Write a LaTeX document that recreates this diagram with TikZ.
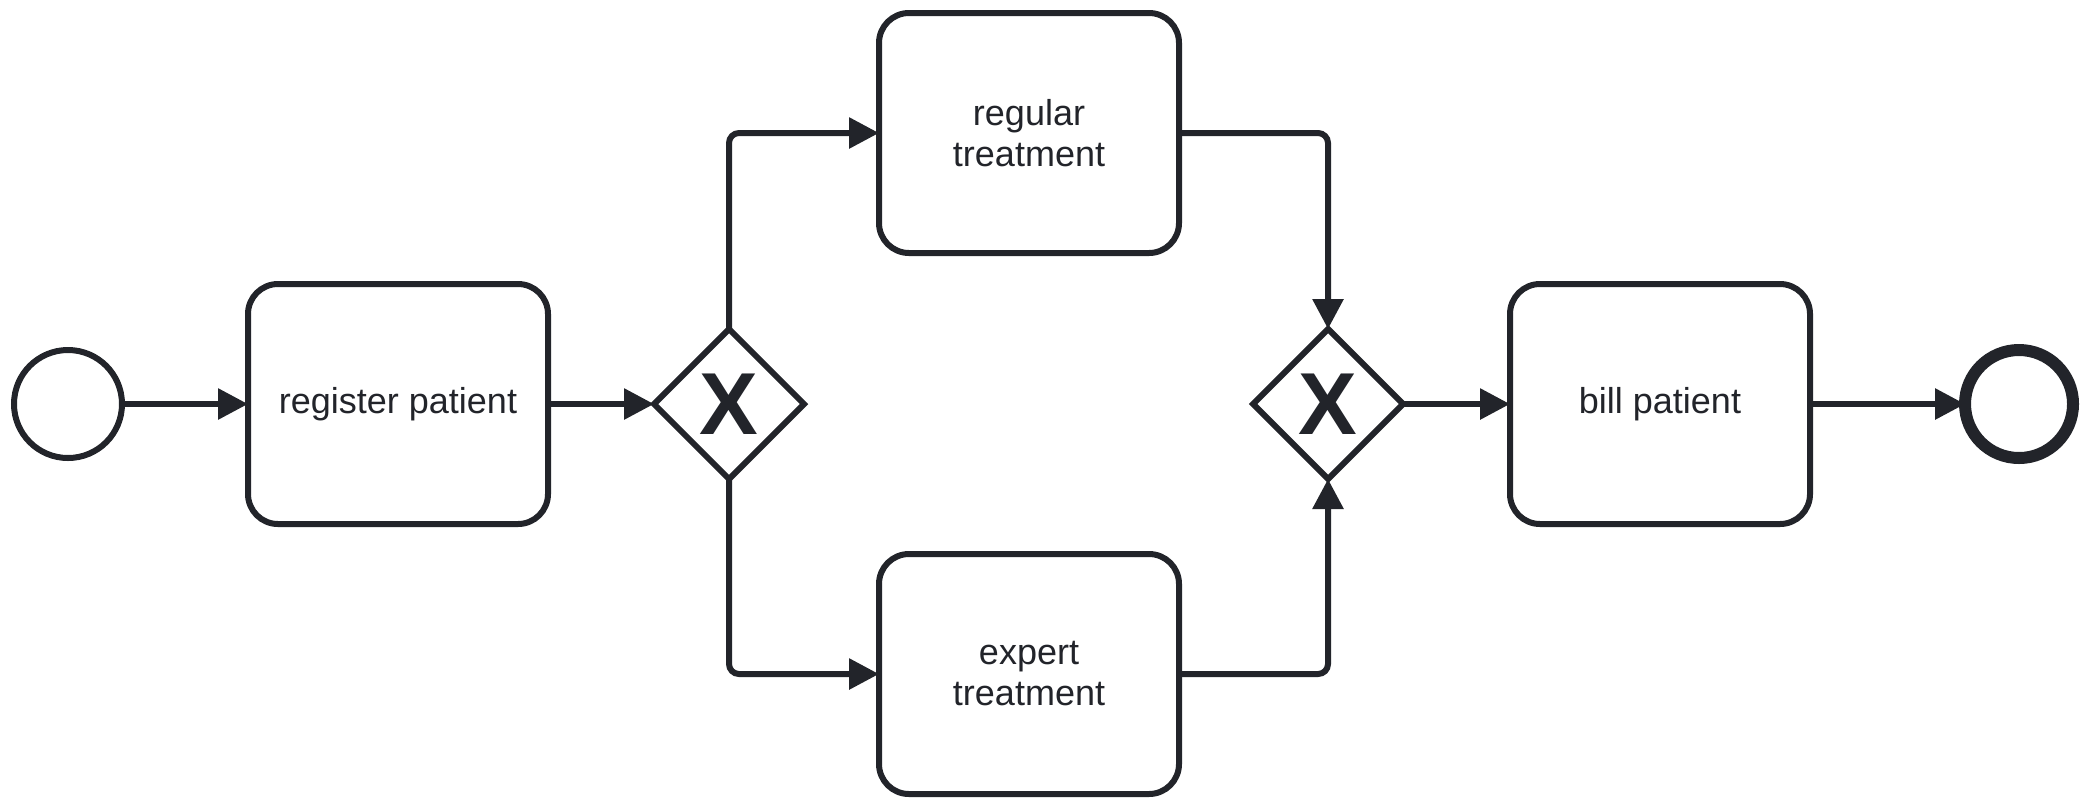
\documentclass[tikz,border=0pt]{standalone}
\usepackage{fontspec}
\setmainfont{Liberation Sans}
\usetikzlibrary{arrows.meta,positioning,shapes.geometric}
\definecolor{ink}{HTML}{22242A}
\tikzset{
  task/.style={draw=ink, line width=3pt, rounded corners=15pt, fill=white,
    minimum width=150pt, minimum height=120pt, inner sep=0pt, outer sep=0pt,
    align=center, text=ink, font=\fontsize{18}{20.5}\selectfont},
  gateway/.style={draw=ink, line width=3pt, diamond, fill=white, inner sep=0pt,
    outer sep=0pt, minimum width=75pt, minimum height=75pt, text=ink,
    font=\fontsize{44}{44}\selectfont\bfseries},
  startevent/.style={draw=ink, line width=3pt, circle, minimum size=54pt,
    inner sep=0pt, outer sep=0pt},
  endevent/.style={draw=ink, line width=6pt, circle, minimum size=54pt,
    inner sep=0pt, outer sep=0pt},
  flow/.style={draw=ink, line width=3pt, rounded corners=5pt,
    -{Triangle[length=15pt,width=15pt]}},
}
\begin{document}
\begin{tikzpicture}[x=0.5pt, y=-0.5pt]
\useasboundingbox (0,0) rectangle (2091,810);

% main row
\node[startevent] (start) at (68,404) {};
\node[task] (register) at (398,404) {register patient};
\node[gateway] (split) at (729,404) {X};
\node[task] (regular) at (1029,133) {regular\\treatment};
\node[task] (expert) at (1029,674) {expert\\treatment};
\node[gateway] (join) at (1328,404) {X};
\node[task] (bill) at (1660,404) {bill patient};
\node[endevent] (end) at (2019,404) {};

\draw[flow] (start) -- (register);
\draw[flow] (register) -- (split);
\draw[flow] (split.north) |- (regular.west);
\draw[flow] (split.south) |- (expert.west);
\draw[flow] (regular.east) -| (join.north);
\draw[flow] (expert.east) -| (join.south);
\draw[flow] (join) -- (bill);
\draw[flow] (bill) -- (end);

\end{tikzpicture}
\end{document}
